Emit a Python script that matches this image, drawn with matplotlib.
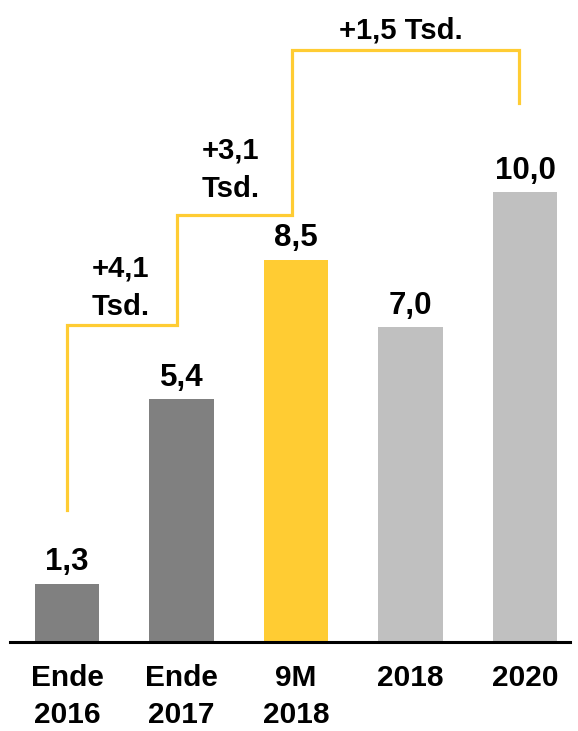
import matplotlib.pyplot as plt

plt.rcParams['font.family'] = ['Liberation Sans', 'DejaVu Sans']
plt.rcParams['font.weight'] = 'bold'

# data
categories = ['Ende\n2016', 'Ende\n2017', '9M\n2018', '2018', '2020']
values = [1.3, 5.4, 8.5, 7.0, 10.0]
labels = ['1,3', '5,4', '8,5', '7,0', '10,0']
colors = ['#808080', '#808080', '#FFCC33', '#C0C0C0', '#C0C0C0']

# yellow step line (growth brackets)
step_x = [0, 0, 0.96, 0.96, 1.965, 1.965, 3.95, 3.95]
step_y = [2.93, 7.04, 7.04, 9.49, 9.49, 13.16, 13.16, 11.98]
growth_text = ['+4,1\nTsd.', '+3,1\nTsd.', '+1,5 Tsd.']
growth_x = [0.47, 1.43, 2.92]
growth_y = [7.27, 9.89, 13.42]

fig = plt.figure(figsize=(5.78, 7.31), dpi=100)
ax = fig.add_axes([10/578, 89/731, 560/578, 642/731])

x = range(len(values))
ax.bar(x, values, width=0.56, color=colors)
for i, v in enumerate(values):
    ax.annotate(labels[i], (i, v), xytext=(0, 9.5), textcoords='offset points',
                ha='center', va='baseline', fontsize=22.5, fontweight='bold')

ax.plot(step_x, step_y, color='#FFCC33', lw=2.3, solid_joinstyle='miter')
for t, tx, ty in zip(growth_text, growth_x, growth_y):
    ax.text(tx, ty, t, ha='center', va='baseline', fontsize=21,
            fontweight='bold', linespacing=1.48)

ax.set_xlim(-0.498, 4.393)
ax.set_ylim(0, 14.27)
ax.set_xticks(list(x))
ax.set_xticklabels(categories, fontsize=21.5, fontweight='bold', linespacing=1.42)
ax.tick_params(axis='x', length=0, pad=16)
ax.set_yticks([])
for s in ['top', 'right', 'left']:
    ax.spines[s].set_visible(False)
ax.spines['bottom'].set_linewidth(2.2)

fig.savefig('out.png', dpi=100)
